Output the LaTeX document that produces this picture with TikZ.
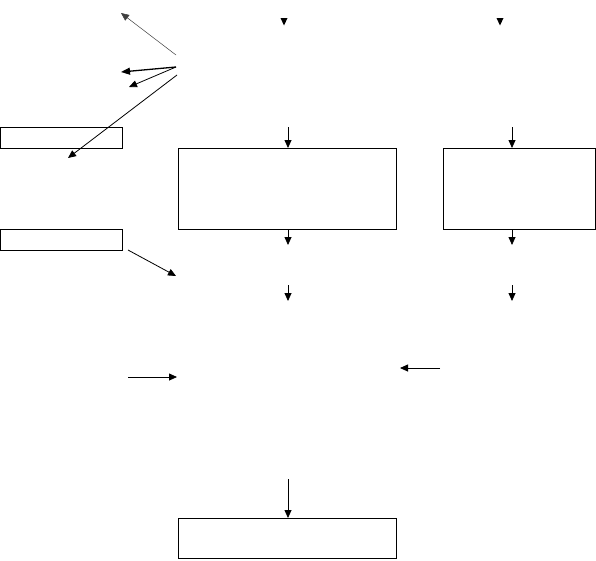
\documentclass[tikz,border=0pt]{standalone}
\usetikzlibrary{arrows.meta}
\begin{document}
\begin{tikzpicture}[x=1pt,y=-1pt,
  box/.style={draw, line width=0.9pt, inner sep=0pt, anchor=north west},
  arr/.style={-{Triangle[length=8pt,width=7pt]}, line width=0.8pt},
  thinarr/.style={-{Triangle[length=8pt,width=7pt]}, line width=0.5pt, black!75},
  thickarr/.style={-{Triangle[length=9pt,width=7pt]}, line width=1.3pt}]
\useasboundingbox (0,0) rectangle (596,560);
% boxes
\node[box, minimum width=122pt, minimum height=21pt] (boxA) at (0,127) {};
\node[box, minimum width=122pt, minimum height=21pt] (boxB) at (0,229) {};
\node[box, minimum width=218pt, minimum height=81pt] (big1) at (178,148) {};
\node[box, minimum width=152pt, minimum height=81pt] (big2) at (443,148) {};
\node[box, minimum width=218pt, minimum height=40pt] (bot) at (178,518) {};
% top arrowheads
\fill (280.5,18) -- (287.5,18) -- (284,25.5) -- cycle;
\fill (496.5,18) -- (503.5,18) -- (500,25.5) -- cycle;
% fan arrows
\coordinate (f1) at (176,55);
\coordinate (f2) at (176,67);
\coordinate (f3) at (177,75);
\coordinate (t1) at (121,13);
\coordinate (t2) at (121,72);
\coordinate (t3) at (129,87);
\coordinate (t4) at (68,158);
\draw[thinarr] (f1) -- (t1);
\draw[thickarr] (f2) -- (t2);
\draw[arr] (f2) -- (t3);
\draw[arr] (f3) -- (t4);
% arrows into big boxes
\coordinate (a1) at (288,127);
\coordinate (a2) at (512,127);
\draw[arr] (a1) -- (a1 |- big1.north);
\draw[arr] (a2) -- (a2 |- big2.north);
% arrows out of big boxes
\coordinate (b1) at (288,245);
\coordinate (b2) at (512,245);
\draw[arr] (b1 |- big1.south) -- (b1);
\draw[arr] (b2 |- big2.south) -- (b2);
% next arrows
\coordinate (c1s) at (288,285);
\coordinate (c1e) at (288,301);
\coordinate (c2s) at (512,285);
\coordinate (c2e) at (512,301);
\draw[arr] (c1s) -- (c1e);
\draw[arr] (c2s) -- (c2e);
% diagonal from boxB
\coordinate (d1) at (128,250);
\coordinate (d2) at (176,276);
\draw[arr] (d1) -- (d2);
% horizontal arrows
\coordinate (h1s) at (128,377);
\coordinate (h1e) at (177,377);
\coordinate (h2s) at (440,368);
\coordinate (h2e) at (400,368);
\draw[arr] (h1s) -- (h1e);
\draw[arr] (h2s) -- (h2e);
% into bottom box
\coordinate (e1) at (288,479);
\draw[arr] (e1) -- (e1 |- bot.north);
\end{tikzpicture}
\end{document}
